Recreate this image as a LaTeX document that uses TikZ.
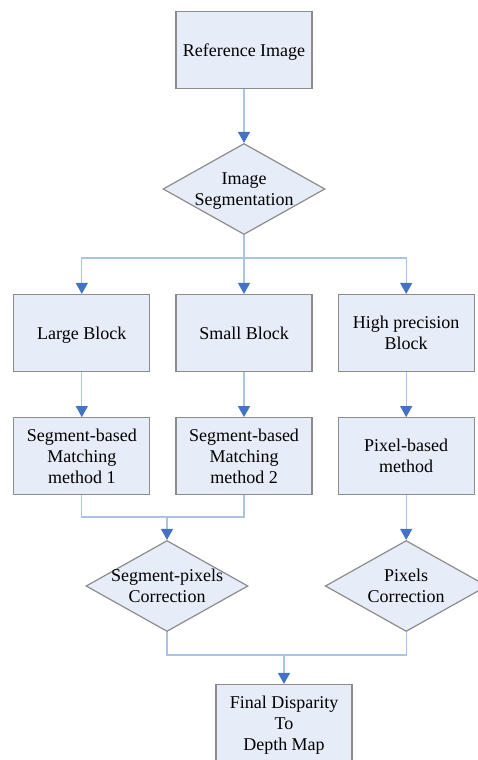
\documentclass[tikz,border=0pt]{standalone}
\usepackage{fontspec}
\setmainfont{Liberation Serif}
\usetikzlibrary{shapes.geometric, arrows.meta, positioning}
\definecolor{boxfill}{HTML}{E6ECF8}
\definecolor{boxgray}{HTML}{8C8C8C}
\definecolor{linkblue}{HTML}{A9C4E8}
\definecolor{tipblue}{HTML}{4472C4}
\tikzset{
  block/.style={
    rectangle, draw=boxgray, fill=boxfill, line width=1.2pt,
    minimum width=136pt, minimum height=77pt, inner sep=2pt,
    text depth=0pt, align=center, font=\fontsize{18}{21}\selectfont
  },
  decision/.style={
    diamond, draw=boxgray, fill=boxfill, line width=1.2pt,
    shape aspect=1.78, minimum width=162pt, minimum height=91pt,
    inner xsep=-12pt, inner ysep=-2pt, text depth=0pt,
    align=center, font=\fontsize{18}{21}\selectfont
  },
  link/.style={draw=linkblue, line width=1.2pt},
  arrow/.style={link, -{Triangle[width=12pt, length=11pt, color=tipblue]}}
}

\begin{document}
\begin{tikzpicture}[x=1pt, y=-1pt]
        \useasboundingbox (0,0) rectangle (478,760);
        \node[block] (ref) at (244,50) {Reference Image};
        \node[decision] (seg) at (244,189) {Image\\Segmentation};
        % three kinds of block
        \node[block] (small) at (244,333) {Small Block};
        \node[block, left=25pt of small] (large) {Large Block};
        \node[block, right=25pt of small] (high) {High precision\\Block};
        \node[block, below=45pt of large] (m1)
          {Segment-based\\Matching\\method 1};
        \node[block, below=45pt of small] (m2)
          {Segment-based\\Matching\\method 2};
        \node[block, below=45pt of high] (pix) {Pixel-based\\method};
        % corrections and result
        \node[decision] (spc) at (167,586) {Segment-pixels\\Correction};
        \node[decision] (pc) at (pix |- spc) {Pixels\\Correction};
        \node[block] (final) at (284,723)
          {Final Disparity\\To\\Depth Map};
        \coordinate (split) at (244,258);
        \coordinate (join1) at (167,517);
        \coordinate (join2) at (284,655);
        \draw[arrow] (ref) -- (seg);
        \draw[link] (seg) -- (split);
        \foreach \b in {large, small, high}{%
          \draw[arrow] (split) -| (\b);}
        \foreach \a/\b in {large/m1, small/m2, high/pix, pix/pc}{%
          \draw[arrow] (\a) -- (\b);}
        \draw[link] (m1.south) |- (join1);
        \draw[link] (m2.south) |- (join1);
        \draw[arrow] (join1) -- (spc);
        \draw[link] (spc.south) |- (join2);
        \draw[link] (pc.south) |- (join2);
        \draw[arrow] (join2) -- (final);
      \end{tikzpicture}
\end{document}
